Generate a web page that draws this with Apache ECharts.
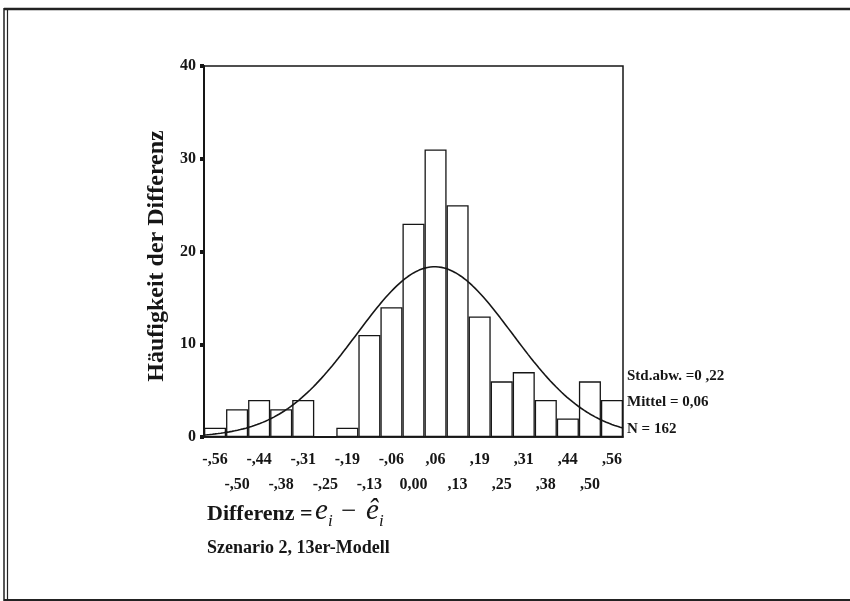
<!DOCTYPE html>
<html>
<head>
<meta charset="utf-8">
<script src="https://cdn.jsdelivr.net/npm/echarts@6/dist/echarts.min.js"></script>
<style>
html,body{margin:0;padding:0;background:#fff;}
#chart{width:850px;height:601px;}
</style>
</head>
<body>
<div id="chart"></div>
<script>
// Bin centre labels (as printed) and frequencies
const categories = ['-,56','-,50','-,44','-,38','-,31','-,25','-,19','-,13','-,06','0,00',',06',',13',',19',',25',',31',',38',',44',',50',',56'];
const counts = [1,3,4,3,4,0,1,11,14,23,31,25,13,6,7,4,2,6,4];
// Axis settings
const yMin = 0, yMax = 40, yInterval = 10;
// Statistics printed on the chart (used for the fitted normal curve)
const statMean = 0.06;
const statSd = 0.22;
const statN = 162;
const binWidth = 0.0625;
const xLow = -0.59375, xHigh = 0.59375;
const statLabels = ['Std.abw. =0 ,22', 'Mittel = 0,06', 'N = 162'];

// Fitted normal curve (expected frequency per bin)
const curve = [];
const steps = 150;
for (let i = 0; i <= steps; i++) {
  const x = xLow + (xHigh - xLow) * i / steps;
  const z = (x - statMean) / statSd;
  const y = statN * binWidth / (statSd * Math.sqrt(2 * Math.PI)) * Math.exp(-0.5 * z * z);
  curve.push([x, y]);
}

const serif = '"Liberation Serif", "Times New Roman", serif';
const ink = '#161616';

const chart = echarts.init(document.getElementById('chart'), null, {renderer: 'canvas'});
chart.setOption({
  backgroundColor: '#ffffff',
  animation: false,
  grid: {left: 204, right: 227, top: 66, bottom: 164, show: true, borderColor: ink, borderWidth: 1.5, backgroundColor: 'transparent'},
  xAxis: [
    {
      type: 'category', data: categories, boundaryGap: true,
      axisLine: {show: true, onZero: false, lineStyle: {color: ink, width: 1.5}},
      axisTick: {show: false},
      axisLabel: {
        interval: 0, margin: 10, lineHeight: 25,
        fontFamily: serif, fontWeight: 'bold', fontSize: 16, color: ink,
        formatter: function (v, idx) { return idx % 2 ? '\n' + v : v; }
      },
      splitLine: {show: false}
    },
    {
      type: 'value', min: xLow, max: xHigh, show: false, position: 'bottom',
      axisLine: {onZero: false}
    }
  ],
  yAxis: {
    type: 'value', min: yMin, max: yMax, interval: yInterval,
    axisLine: {show: true, onZero: false, lineStyle: {color: ink, width: 2}},
    axisTick: {show: true, length: 4, lineStyle: {color: ink, width: 4}},
    axisLabel: {margin: 8, fontFamily: serif, fontWeight: 'bold', fontSize: 16, color: ink},
    splitLine: {show: false}
  },
  series: [
    {
      type: 'bar', data: counts, xAxisIndex: 0, barCategoryGap: '0%',
      itemStyle: {color: '#ffffff', borderColor: ink, borderWidth: 1.3},
      z: 2
    },
    {
      type: 'line', data: curve, xAxisIndex: 1, showSymbol: false, smooth: false,
      lineStyle: {color: ink, width: 1.6}, z: 5
    }
  ],
  graphic: [
    // outer frame
    {type: 'line', shape: {x1: 4, y1: 9, x2: 850, y2: 9}, style: {stroke: '#222', lineWidth: 2.5}},
    {type: 'line', shape: {x1: 4, y1: 8, x2: 4, y2: 601}, style: {stroke: '#222', lineWidth: 1.5}},
    {type: 'line', shape: {x1: 7.5, y1: 10, x2: 7.5, y2: 601}, style: {stroke: '#222', lineWidth: 1.2}},
    {type: 'line', shape: {x1: 4, y1: 600, x2: 850, y2: 600}, style: {stroke: '#222', lineWidth: 2}},
    // y axis title
    {type: 'text', x: 157, y: 256, rotation: Math.PI / 2,
     style: {text: 'Häufigkeit der Differenz', font: 'bold 24px ' + serif, fill: ink, align: 'center', verticalAlign: 'middle'}},
    // statistics
    {type: 'text', x: 627, y: 376, style: {text: statLabels[0], font: 'bold 15px ' + serif, fill: ink, verticalAlign: 'middle'}},
    {type: 'text', x: 627, y: 402, style: {text: statLabels[1], font: 'bold 15px ' + serif, fill: ink, verticalAlign: 'middle'}},
    {type: 'text', x: 627, y: 429, style: {text: statLabels[2], font: 'bold 15px ' + serif, fill: ink, verticalAlign: 'middle'}},
    // x axis title
    {type: 'text', x: 207, y: 514, style: {text: 'Differenz =', font: 'bold 22px ' + serif, fill: ink, verticalAlign: 'middle'}},
    {type: 'text', x: 315, y: 511, style: {text: 'e', font: 'italic 29px ' + serif, fill: ink, verticalAlign: 'middle'}},
    {type: 'text', x: 328, y: 522, style: {text: 'i', font: 'italic 17px ' + serif, fill: ink, verticalAlign: 'middle'}},
    {type: 'text', x: 341, y: 512, style: {text: '−', font: '27px ' + serif, fill: ink, verticalAlign: 'middle'}},
    {type: 'text', x: 366, y: 511, style: {text: 'ê', font: 'italic 29px ' + serif, fill: ink, verticalAlign: 'middle'}},
    {type: 'text', x: 379, y: 522, style: {text: 'i', font: 'italic 17px ' + serif, fill: ink, verticalAlign: 'middle'}},
    {type: 'text', x: 207, y: 548, style: {text: 'Szenario 2, 13er-Modell', font: 'bold 18px ' + serif, fill: ink, verticalAlign: 'middle'}}
  ]
});
</script>
</body>
</html>
